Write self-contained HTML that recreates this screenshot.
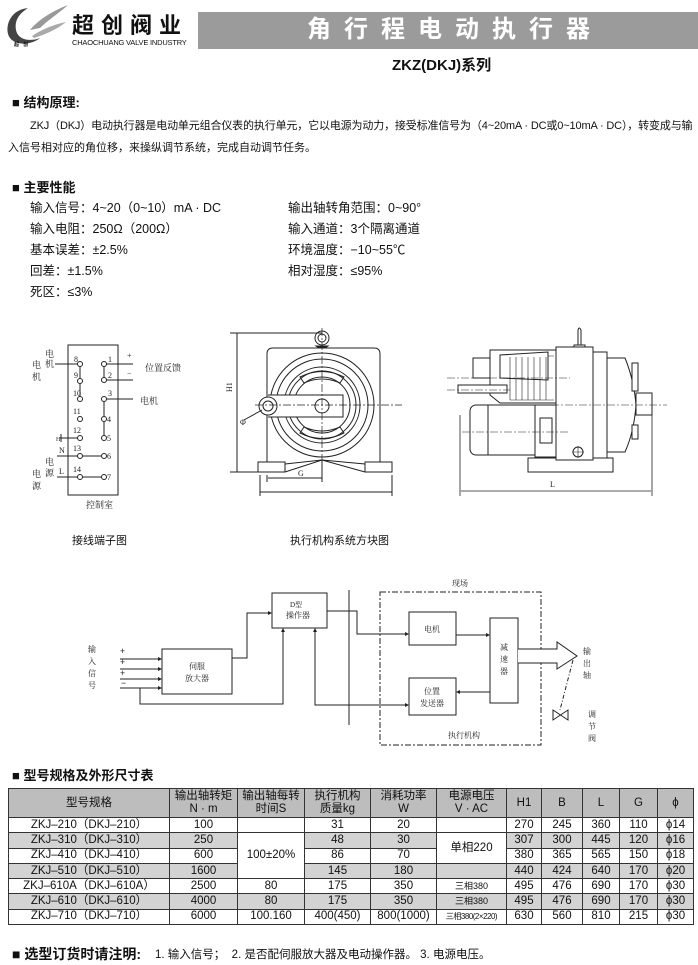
<!DOCTYPE html>
<html><head><meta charset="utf-8"><style>
body{margin:0;background:#fff;}
#p{position:relative;width:698px;height:965px;overflow:hidden;font-family:"Liberation Sans","Noto Sans CJK SC",sans-serif;color:#111;}
.a{position:absolute;white-space:nowrap;}
.h{font-weight:bold;font-size:13px;}
.t{font-size:11px;}
.s{font-size:12.5px;}
table{position:absolute;left:8px;top:788px;border-collapse:collapse;font-size:11.5px;table-layout:fixed;}
td{border:1px solid #333;text-align:center;padding:0;height:14.3px;line-height:13px;}
thead td{background:#bdbdbd;height:28px;line-height:13px;font-size:11.5px;}
tr.g td{background:#d3d3d3;}
td.w{background:#fff !important;}
</style></head><body><div id="p">

<svg class="a" style="left:0;top:0" width="698" height="965" xmlns="http://www.w3.org/2000/svg">
<!-- logo -->
<path d="M28 8 C8 10 4 30 10 38 C16 46 32 45 40 38 C30 42 18 40 16 30 C14 18 22 12 28 8Z" fill="#444"/>
<path d="M30 30 C40 18 55 10 68 5 C58 14 48 20 40 28Z" fill="#999"/>
<path d="M32 36 C44 28 56 24 66 22 C56 30 46 34 34 38Z" fill="#aaa"/>
<rect x="198" y="12" width="500" height="37" fill="#9b9b9b"/>
<!-- terminal diagram -->
<g stroke="#222" stroke-width="1" fill="none">
<rect x="68" y="345" width="50" height="150"/>
<g fill="#fff">
<circle cx="80" cy="364" r="2.5"/><circle cx="80" cy="381" r="2.5"/><circle cx="80" cy="399" r="2.5"/><circle cx="80" cy="419" r="2.5"/><circle cx="80" cy="438" r="2.5"/><circle cx="80" cy="456" r="2.5"/><circle cx="80" cy="477" r="2.5"/>
<circle cx="104" cy="364" r="2.5"/><circle cx="104" cy="380" r="2.5"/><circle cx="104" cy="399" r="2.5"/><circle cx="104" cy="419" r="2.5"/><circle cx="104" cy="438" r="2.5"/><circle cx="104" cy="456" r="2.5"/><circle cx="104" cy="477" r="2.5"/>
</g>
<path d="M55 364H78M80 367V378M80 384V396M106 364H133M106 380H133M104 367V377M106 399H133M104 402V416M104 422V435M60 438H78M61 434V442M57 456H78M83 456H101M57 477H78M83 477H101"/>
</g>
<g font-family="Liberation Serif,Noto Serif CJK SC,serif" font-size="8" fill="#222">
<text x="74" y="362">8</text><text x="74" y="378">9</text><text x="73" y="396">10</text><text x="73" y="414">11</text><text x="73" y="433">12</text><text x="73" y="451">13</text><text x="73" y="472">14</text>
<text x="108" y="362">1</text><text x="108" y="378">2</text><text x="108" y="396">3</text><text x="107" y="422">4</text><text x="107" y="441">5</text><text x="107" y="459">6</text><text x="107" y="480">7</text>
<text x="127" y="358">+</text><text x="127" y="376">−</text><text x="59" y="453">N</text><text x="59" y="474">L</text><text x="56" y="441" font-size="6">H</text>
<text x="145" y="371" font-size="9">位置反馈</text><text x="140" y="404" font-size="9">电机</text>
<text x="45" y="357" font-size="9">电</text><text x="45" y="367" font-size="9">机</text>
<text x="32" y="368" font-size="9">电</text><text x="32" y="380" font-size="9">机</text>
<text x="45" y="465" font-size="9">电</text><text x="45" y="476" font-size="9">源</text>
<text x="32" y="477" font-size="9">电</text><text x="32" y="489" font-size="9">源</text>
<text x="86" y="508" font-size="9">控制室</text>
</g>
<!-- front view -->
<g stroke="#222" stroke-width="1" fill="none">
<path d="M267 462V354Q267 348 273 348H374Q380 348 380 354V462"/>
<circle cx="322" cy="338" r="7"/><circle cx="322" cy="338" r="4"/>
<path d="M316 346H328L325 348H319Z" fill="#222"/>
<circle cx="322" cy="405" r="52"/><circle cx="322" cy="405" r="46"/><circle cx="322" cy="405" r="38"/><circle cx="322" cy="405" r="34"/><circle cx="322" cy="405" r="28"/>
<path d="M300 377Q322 366 344 377L340 383Q322 375 304 383Z"/>
<path d="M300 433Q322 444 344 433L340 427Q322 435 304 427Z"/>
<path d="M268 395H343V417H268" fill="#fff"/><circle cx="268" cy="406" r="9" fill="#fff"/><circle cx="268" cy="406" r="5"/>
<circle cx="322" cy="406" r="7"/>
<path d="M258 472V462H285V472ZM365 472V462H392V472Z"/>
<path d="M285 464L322 460L365 464M285 472L322 460L365 472"/>
<path d="M237 333V472M230 333H322M230 472H258M244 420L262 410M267 475V482M322 460V482M268 478H322M260 475V496M392 475V496M260 492H392"/>
<path d="M255 405H402M322 328V470" stroke-dasharray="8 2 2 2" stroke-width="0.7"/>
</g>
<g font-family="Liberation Serif,serif" font-size="8" fill="#222">
<text x="0" y="0" transform="translate(232,392) rotate(-90)">H1</text>
<text x="240" y="425">Φ</text><text x="298" y="476">G</text><text x="550" y="487">L</text>
</g>
<!-- side view -->
<g stroke="#222" stroke-width="1" fill="#fff">
<path d="M578 347V330Q579 326 581 330V347Z"/>
<rect x="574" y="345" width="11" height="3"/>
<rect x="528" y="458" width="85" height="14"/>
<path d="M607 358H625Q634 380 636 405Q634 432 625 452H607Z"/>
<rect x="632" y="363" width="6" height="28"/><rect x="632" y="425" width="6" height="14"/>
<rect x="636" y="393" width="16" height="22"/>
<rect x="593" y="352" width="14" height="106"/>
<rect x="556" y="347" width="37" height="113"/>
<path d="M490 350H556V403H500L490 395Z"/>
<path d="M510 356H554M510 400H554" stroke-width="0.6"/>
<path d="M500 355L548 352V380L500 378Z"/>
<path d="M473 358H490V378H473Z"/>
<path d="M458 385H507V393H458Z"/>
<rect x="470" y="405" width="65" height="50" rx="6"/>
<rect x="488" y="405" width="47" height="50"/>
<rect x="535" y="405" width="21" height="52"/><rect x="540" y="418" width="12" height="25"/>
<circle cx="578" cy="452" r="5"/>
</g>
<g stroke="#222" stroke-width="0.6" fill="none">
<path d="M510 357V400M516 357V400M522 357V400M528 357V400M534 357V400M540 357V400M546 357V400" />
<path d="M447 378H570M447 390H510M523 405H667M462 432H570" stroke-dasharray="8 2 2 2"/>
<path d="M460 415V496M652 415V496M461 491H651" stroke-width="0.8"/>
<path d="M572 452H584M578 446V458"/>
</g>
<!-- block diagram -->
<g stroke="#222" stroke-width="1" fill="none">
<rect x="272" y="593" width="55" height="35"/>
<rect x="162" y="649" width="70" height="45"/>
<rect x="409" y="612" width="47" height="33"/>
<rect x="490" y="618" width="28" height="85"/>
<rect x="409" y="678" width="47" height="37"/>
<rect x="380" y="592" width="161" height="153" stroke-dasharray="6 2 2 2"/>
<path d="M349 590V725"/>
<path d="M120 659H160M120 669H160M120 679H160M120 688H160"/>
<path d="M140 688V704H283V630"/>
<path d="M232 658H247V613H270"/>
<path d="M327 611H357V634H407"/>
<path d="M456 635H488"/>
<path d="M490 692H458"/>
<path d="M315 630V705H407"/>
<path d="M518 649H557V642L577 656L557 669V663H518" fill="#fff"/>
<path d="M573 660L560 710" stroke-dasharray="4 2 1 2"/>
<path d="M553 710L568 720V710L553 720Z"/>
</g>
<g fill="#222">
<path d="M162 659l-4-2v4zM162 669l-4-2v4zM162 679l-4-2v4zM162 688l-4-2v4zM272 613l-4-2v4zM283 628l-2 4h4zM315 628l-2 4h4zM409 634l-4-2v4zM490 635l-4-2v4zM456 692l4-2v4zM409 705l-4-2v4z"/>
</g>
<g font-family="Liberation Serif,Noto Serif CJK SC,serif" font-size="8" fill="#222">
<text x="290" y="607" font-size="7">D型</text><text x="286" y="618">操作器</text>
<text x="189" y="669">伺服</text><text x="185" y="681">放大器</text>
<text x="424" y="632">电机</text>
<text x="424" y="694">位置</text><text x="420" y="706">发送器</text>
<text x="500" y="650">减</text><text x="500" y="662">速</text><text x="500" y="674">器</text>
<text x="452" y="586">现场</text><text x="448" y="738">执行机构</text>
<text x="88" y="652">输</text><text x="88" y="664">入</text><text x="88" y="676">信</text><text x="88" y="688">号</text>
<text x="583" y="654">输</text><text x="583" y="666">出</text><text x="583" y="678">轴</text>
<text x="588" y="717">调</text><text x="588" y="729">节</text><text x="588" y="741">阀</text>
<text x="120" y="654" font-size="9" font-weight="bold">+</text><text x="120" y="665" font-size="9" font-weight="bold">+</text><text x="120" y="676" font-size="9" font-weight="bold">+</text><text x="121" y="686" font-size="9" font-weight="bold">−</text>
</g>
</svg>

<div class="a" style="left:72px;top:12px;font-size:22px;font-weight:bold;letter-spacing:7px;font-family:'Noto Sans CJK SC',sans-serif;line-height:24px">超创阀业</div>
<div class="a" style="left:72px;top:38px;font-size:7.5px;letter-spacing:-0.2px">CHAOCHUANG VALVE INDUSTRY</div>
<div class="a" style="left:14px;top:41px;font-size:5px;font-weight:bold">超&nbsp;&nbsp;&nbsp;创</div>
<div class="a" style="left:307px;top:16px;font-size:24px;font-weight:bold;color:#fff;letter-spacing:13px;line-height:28px">角行程电动执行器</div>
<div class="a" style="left:392px;top:54px;font-size:15px;font-weight:bold">ZKZ(DKJ)系列</div>

<div class="a h" style="left:12px;top:92px">■ 结构原理:</div>
<div class="a t" style="left:30px;top:117px;letter-spacing:-0.15px">ZKJ（DKJ）电动执行器是电动单元组合仪表的执行单元，它以电源为动力，接受标准信号为（4~20mA · DC或0~10mA · DC），转变成与输</div>
<div class="a t" style="left:8px;top:139px">入信号相对应的角位移，来操纵调节系统，完成自动调节任务。</div>

<div class="a h" style="left:12px;top:177px">■ 主要性能</div>
<div class="a s" style="left:30px;top:197px">输入信号：4~20（0~10）mA · DC</div>
<div class="a s" style="left:30px;top:218px">输入电阻：250Ω（200Ω）</div>
<div class="a s" style="left:30px;top:239px">基本误差：±2.5%</div>
<div class="a s" style="left:30px;top:260px">回差：±1.5%</div>
<div class="a s" style="left:30px;top:281px">死区：≤3%</div>
<div class="a s" style="left:288px;top:197px">输出轴转角范围：0~90°</div>
<div class="a s" style="left:288px;top:218px">输入通道：3个隔离通道</div>
<div class="a s" style="left:288px;top:239px">环境温度：−10~55℃</div>
<div class="a s" style="left:288px;top:260px">相对湿度：≤95%</div>

<div class="a" style="left:72px;top:532px;font-size:11px">接线端子图</div>
<div class="a" style="left:290px;top:532px;font-size:11px">执行机构系统方块图</div>

<div class="a h" style="left:12px;top:765px">■ 型号规格及外形尺寸表</div>
<table>
<colgroup><col style="width:161px"><col style="width:68px"><col style="width:67px"><col style="width:66px"><col style="width:66px"><col style="width:70px"><col style="width:35px"><col style="width:41px"><col style="width:37px"><col style="width:38px"><col style="width:36px"></colgroup>
<thead><tr><td>型号规格</td><td>输出轴转矩<br>N · m</td><td>输出轴每转<br>时间S</td><td>执行机构<br>质量kg</td><td>消耗功率<br>W</td><td>电源电压<br>V · AC</td><td>H1</td><td>B</td><td>L</td><td>G</td><td>ϕ</td></tr></thead>
<tbody>
<tr><td>ZKJ–210（DKJ–210）</td><td>100</td><td></td><td>31</td><td>20</td><td></td><td>270</td><td>245</td><td>360</td><td>110</td><td>ϕ14</td></tr>
<tr class="g"><td>ZKJ–310（DKJ–310）</td><td>250</td><td class="w" rowspan="3">100±20%</td><td>48</td><td>30</td><td class="w" rowspan="2">单相220</td><td>307</td><td>300</td><td>445</td><td>120</td><td>ϕ16</td></tr>
<tr><td>ZKJ–410（DKJ–410）</td><td>600</td><td>86</td><td>70</td><td>380</td><td>365</td><td>565</td><td>150</td><td>ϕ18</td></tr>
<tr class="g"><td>ZKJ–510（DKJ–510）</td><td>1600</td><td>145</td><td>180</td><td></td><td>440</td><td>424</td><td>640</td><td>170</td><td>ϕ20</td></tr>
<tr><td>ZKJ–610A（DKJ–610A）</td><td>2500</td><td>80</td><td>175</td><td>350</td><td style="font-size:9px">三相380</td><td>495</td><td>476</td><td>690</td><td>170</td><td>ϕ30</td></tr>
<tr class="g"><td>ZKJ–610（DKJ–610）</td><td>4000</td><td>80</td><td>175</td><td>350</td><td style="font-size:9px">三相380</td><td>495</td><td>476</td><td>690</td><td>170</td><td>ϕ30</td></tr>
<tr><td>ZKJ–710（DKJ–710）</td><td>6000</td><td>100.160</td><td>400(450)</td><td>800(1000)</td><td style="font-size:8px;letter-spacing:-0.5px">三相380(2×220)</td><td>630</td><td>560</td><td>810</td><td>215</td><td>ϕ30</td></tr>
</tbody></table>

<div class="a" style="left:12px;top:944px;font-size:14px;font-weight:bold">■ 选型订货时请注明:</div>
<div class="a" style="left:155px;top:946px;font-size:11.5px">1. 输入信号；&nbsp;&nbsp;2. 是否配伺服放大器及电动操作器。&nbsp;3. 电源电压。</div>
</div></body></html>
